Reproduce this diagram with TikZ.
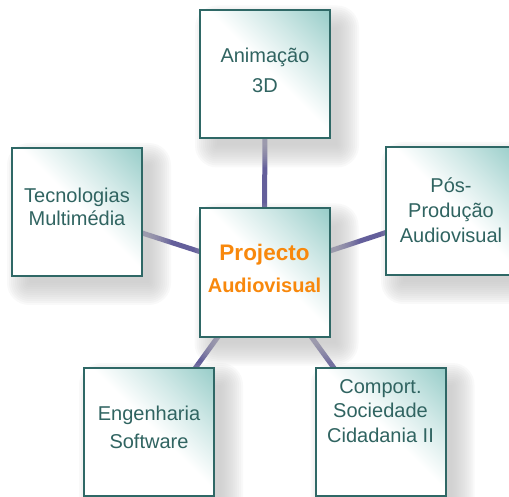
\documentclass[tikz,border=0pt]{standalone}
\usepackage{fontspec}
\setmainfont{Liberation Sans}
\definecolor{boxteal}{RGB}{150,204,200}
\definecolor{boxborder}{RGB}{47,104,102}
\definecolor{boxtext}{RGB}{48,100,97}
\definecolor{conncol}{RGB}{100,95,155}
\definecolor{shadowgray}{RGB}{188,188,188}
\definecolor{titleorange}{RGB}{248,136,12}
\pgfdeclareverticalshading{boxshade}{100bp}{color(0bp)=(white); color(52bp)=(white); color(68bp)=(boxteal!45!white); color(86bp)=(boxteal); color(100bp)=(boxteal)}
\pgfdeclarelayer{bg}
\pgfdeclarelayer{shadowlayer}
\pgfsetlayers{bg,shadowlayer,main}
\tikzset{
  tbox/.style={draw=boxborder, line width=2pt, shading=boxshade, shading angle=-45,
    minimum width=130pt, minimum height=128pt, inner sep=0pt},
  ttext/.style={text=boxtext, align=center, inner sep=0pt},
  conn/.style={draw=conncol, line width=5pt},
  softshadow/.style={fill=shadowgray, fill opacity=0.09}
}
\begin{document}
\begin{tikzpicture}[x=1pt,y=-1pt]
\useasboundingbox (0,0) rectangle (509,497);
% boxes
\node[tbox] (t)  at (265,74.5) {};
\node[tbox] (l)  at (77,212) {};
\node[tbox] (r)  at (451,211) {};
\node[tbox] (c)  at (264.5,272.5) {};
\node[tbox] (bl) at (149,432) {};
\node[tbox] (br) at (380.5,432) {};
% texts
\node[ttext, font=\fontsize{20}{30}\selectfont] (tt) at (265,70.5) {Animação\\3D};
\node[ttext, font=\fontsize{20}{23}\selectfont] (lt) at (77,207) {Tecnologias\\Multimédia};
\node[ttext, font=\fontsize{20}{25}\selectfont] (rt) at (451,210) {Pós-\\Produção\\Audiovisual};
\node[ttext, text=titleorange, font=\bfseries\fontsize{20}{32}\selectfont] (ct) at (264.5,268) {{\fontsize{22.5}{27}\selectfont Projecto}\\Audiovisual};
\node[ttext, font=\fontsize{20}{28}\selectfont] (blt) at (149,427) {Engenharia\\Software};
\node[ttext, font=\fontsize{20}{24.5}\selectfont] (brt) at (380.5,411) {Comport.\\Sociedade\\Cidadania II};
% shadows
\begin{pgfonlayer}{shadowlayer}
\foreach \n in {t,l,r,c,bl,br}{
  \foreach \r in {-6,-4,...,16}{
    \fill[softshadow, rounded corners={max(\r+6,1)*1pt}]
      ([shift={(12-\r,12-\r)}]\n.north west) rectangle ([shift={(12+\r,12+\r)}]\n.south east);
  }
}
\end{pgfonlayer}
% connectors
\begin{pgfonlayer}{bg}
\draw[conn] (c.center) -- (t.center);
\draw[conn] (c.center) -- (l.center);
\draw[conn] (c.center) -- (r.center);
\draw[conn] (c.center) -- (bl.center);
\draw[conn] (c.center) -- (br.center);
\end{pgfonlayer}
\end{tikzpicture}
\end{document}
